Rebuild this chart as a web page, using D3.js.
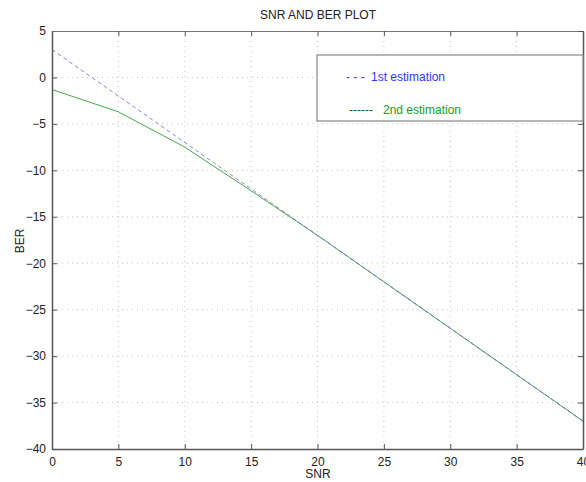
<!DOCTYPE html>
<html><head><meta charset="utf-8">
<script src="https://cdn.jsdelivr.net/npm/d3@7"></script>
<style>
html,body{margin:0;padding:0;background:#fff;}
svg text{font-family:"Liberation Sans",Arial,sans-serif;}
</style></head>
<body>
<svg id="c" width="586" height="482"></svg>
<script>
const snr = [0, 5, 10, 15, 20, 25, 30, 35, 40];
const est1 = [3, -2, -7, -12, -17, -22, -27, -32, -37];
const est2 = [-1.3, -3.7, -7.5, -12.2, -17, -22, -27, -32, -37];
const xTicks = [0, 5, 10, 15, 20, 25, 30, 35, 40];
const yTicks = [5, 0, -5, -10, -15, -20, -25, -30, -35, -40];
const legendLabels = ["1st estimation", "2nd estimation"];
const legendMarks = ["- - -", "------"];

const svg = d3.select("#c");
const L = 52, R = 583, T = 31, B = 449;
const x = d3.scaleLinear().domain([0, 40]).range([L, R]);
const y = d3.scaleLinear().domain([-40, 5]).range([B, T]);

// grid
const g = svg.append("g");
g.selectAll(".gx").data(xTicks.slice(1, -1)).join("line")
  .attr("x1", d => x(d)).attr("x2", d => x(d)).attr("y1", T).attr("y2", B)
  .attr("stroke", "#c8c8c8").attr("stroke-width", 1).attr("stroke-dasharray", "1,4");
g.selectAll(".gy").data(yTicks.slice(1, -1)).join("line")
  .attr("y1", d => y(d)).attr("y2", d => y(d)).attr("x1", L).attr("x2", R)
  .attr("stroke", "#c8c8c8").attr("stroke-width", 1).attr("stroke-dasharray", "1,4");

// lines
const line = d3.line().x((d, i) => x(snr[i])).y(d => y(d));
svg.append("path").datum(est2).attr("d", line).attr("fill", "none")
  .attr("stroke", "#4aa84a").attr("stroke-width", 1);
svg.append("path").datum(est1).attr("d", line).attr("fill", "none")
  .attr("stroke", "#5a5aff").attr("stroke-opacity", 0.75).attr("stroke-width", 1).attr("stroke-dasharray", "4,3");

// axes
const ax = d3.axisBottom(x).tickValues(xTicks).tickSizeInner(-5).tickSizeOuter(0).tickPadding(8);
const ay = d3.axisLeft(y).tickValues(yTicks).tickSizeInner(-5).tickSizeOuter(0).tickPadding(6);
const gxA = svg.append("g").attr("transform", `translate(0,${B})`).call(ax);
const gyA = svg.append("g").attr("transform", `translate(${L},0)`).call(ay);
const axTop = d3.axisTop(x).tickValues(xTicks).tickSizeInner(-5).tickSizeOuter(0).tickFormat("");
const ayRight = d3.axisRight(y).tickValues(yTicks).tickSizeInner(-5).tickSizeOuter(0).tickFormat("");
const gt = svg.append("g").attr("transform", `translate(0,${T})`).call(axTop);
const gr = svg.append("g").attr("transform", `translate(${R},0)`).call(ayRight);
[gxA, gyA, gt, gr].forEach(a => {
  a.select(".domain").attr("stroke", "#555").attr("stroke-width", 1.5);
  a.selectAll(".tick line").attr("stroke", "#555");
  a.selectAll("text").attr("font-size", 12).attr("fill", "#222")
    .style("font-family", '"Liberation Sans",Arial,sans-serif');
});
gt.select(".domain").attr("stroke", "#777").attr("stroke-width", 1);

// title & labels
svg.append("text").attr("x", 318).attr("y", 19).attr("text-anchor", "middle")
  .attr("font-size", 12).attr("fill", "#222").text("SNR AND BER PLOT");
svg.append("text").attr("x", 318).attr("y", 478).attr("text-anchor", "middle")
  .attr("font-size", 12).attr("fill", "#222").text("SNR");
svg.append("text").attr("transform", "translate(24,241) rotate(-90)").attr("text-anchor", "middle")
  .attr("font-size", 12).attr("fill", "#222").text("BER");

// legend
const lg = svg.append("g");
lg.append("rect").attr("x", 317).attr("y", 55).attr("width", R - 317).attr("height", 66)
  .attr("fill", "#fff").attr("stroke", "#888").attr("stroke-width", 1.2);
const legendColors = ["#3333ff", "#229922"];
const markColors = ["#3333ff", "#225522"];
const markX = [346, 349];
const textX = [371, 383];
const rowY = [81, 114];
legendLabels.forEach((lab, i) => {
  lg.append("text").attr("x", markX[i]).attr("y", rowY[i]).attr("font-size", 12)
    .attr("fill", markColors[i]).text(legendMarks[i]);
  lg.append("text").attr("x", textX[i]).attr("y", rowY[i]).attr("font-size", 12)
    .attr("fill", legendColors[i]).text(lab);
});
</script>
</body></html>
